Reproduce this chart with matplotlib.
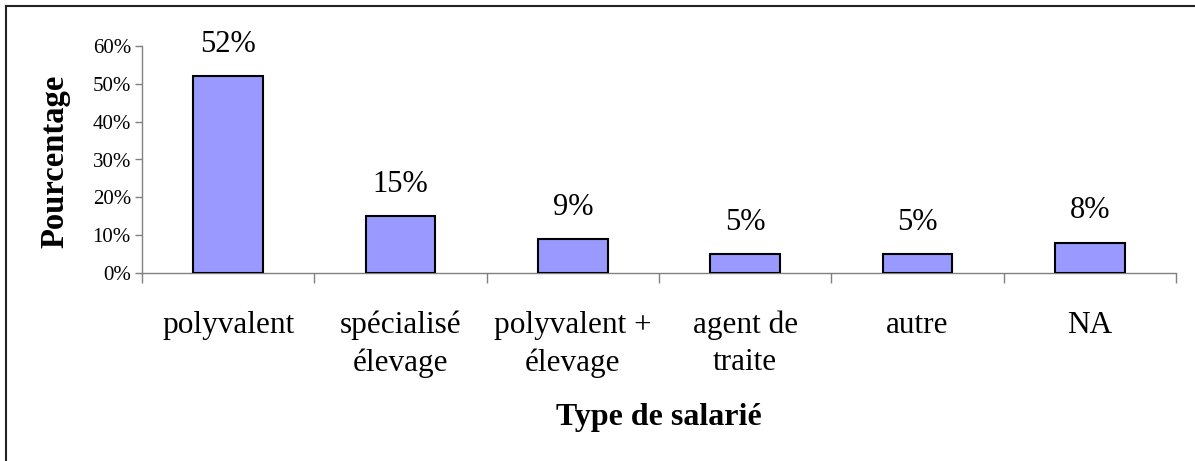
import matplotlib
matplotlib.use("Agg")
import matplotlib.pyplot as plt
from matplotlib.lines import Line2D
from matplotlib.ticker import FuncFormatter

categories = ["polyvalent", "spécialisé\nélevage", "polyvalent +\nélevage",
              "agent de\ntraite", "autre", "NA"]
values = [0.52, 0.15, 0.09, 0.05, 0.05, 0.08]
value_labels = ["52%", "15%", "9%", "5%", "5%", "8%"]
yticks = [0.0, 0.1, 0.2, 0.3, 0.4, 0.5, 0.6]

plt.rcParams['font.family'] = ['Liberation Serif', 'DejaVu Serif']

W, H = 1195, 461
fig = plt.figure(figsize=(W / 100, H / 100), dpi=100)
ax = fig.add_axes([142 / W, 1 - 273 / H, (1176 - 142) / W, (273 - 46) / H])

x = list(range(len(categories)))
ax.bar(x, values, width=0.406, color="#9999FF", edgecolor="black", linewidth=1.5, zorder=3)

for xi, v, lab in zip(x, values, value_labels):
    ax.annotate(lab, (xi, v), xytext=(0, 23), textcoords="offset points",
                ha="center", va="center", fontsize=22)

ax.set_xlim(-0.5, len(categories) - 0.5)
ax.set_ylim(0, 0.6)
ax.set_yticks(yticks)
ax.yaxis.set_major_formatter(FuncFormatter(lambda v, p: f"{v*100:.0f}%"))
ax.tick_params(axis="y", labelsize=15, length=5, width=1, color="#808080", pad=3)

ax.set_xticks([i - 0.5 for i in range(len(categories) + 1)])
ax.set_xticklabels([])
ax.set_xticks(x, minor=True)
ax.set_xticklabels(categories, minor=True, fontsize=22.5, linespacing=1.38)
ax.tick_params(axis="x", which="major", length=7, width=1, color="#808080")
ax.tick_params(axis="x", which="minor", length=0, pad=27)

for s in ["top", "right"]:
    ax.spines[s].set_visible(False)
for s in ["left", "bottom"]:
    ax.spines[s].set_color("#808080")
    ax.spines[s].set_linewidth(1)

fig.text(55 / W, 1 - 161 / H, "Pourcentage", rotation=90, ha="center", va="center",
         fontsize=23.5, fontweight="bold")
fig.text(659 / W, 1 - 417 / H, "Type de salarié", ha="center", va="center",
         fontsize=23, fontweight="bold")

# outer chart frame (partially visible)
fig.add_artist(Line2D([6.5 / W, 6.5 / W], [1 - 6 / H, 0], transform=fig.transFigure,
                      color="#222222", linewidth=1.5))
fig.add_artist(Line2D([6 / W, 1], [1 - 6.5 / H, 1 - 6.5 / H], transform=fig.transFigure,
                      color="#222222", linewidth=1.5))

fig.savefig("out.png", dpi=100)
